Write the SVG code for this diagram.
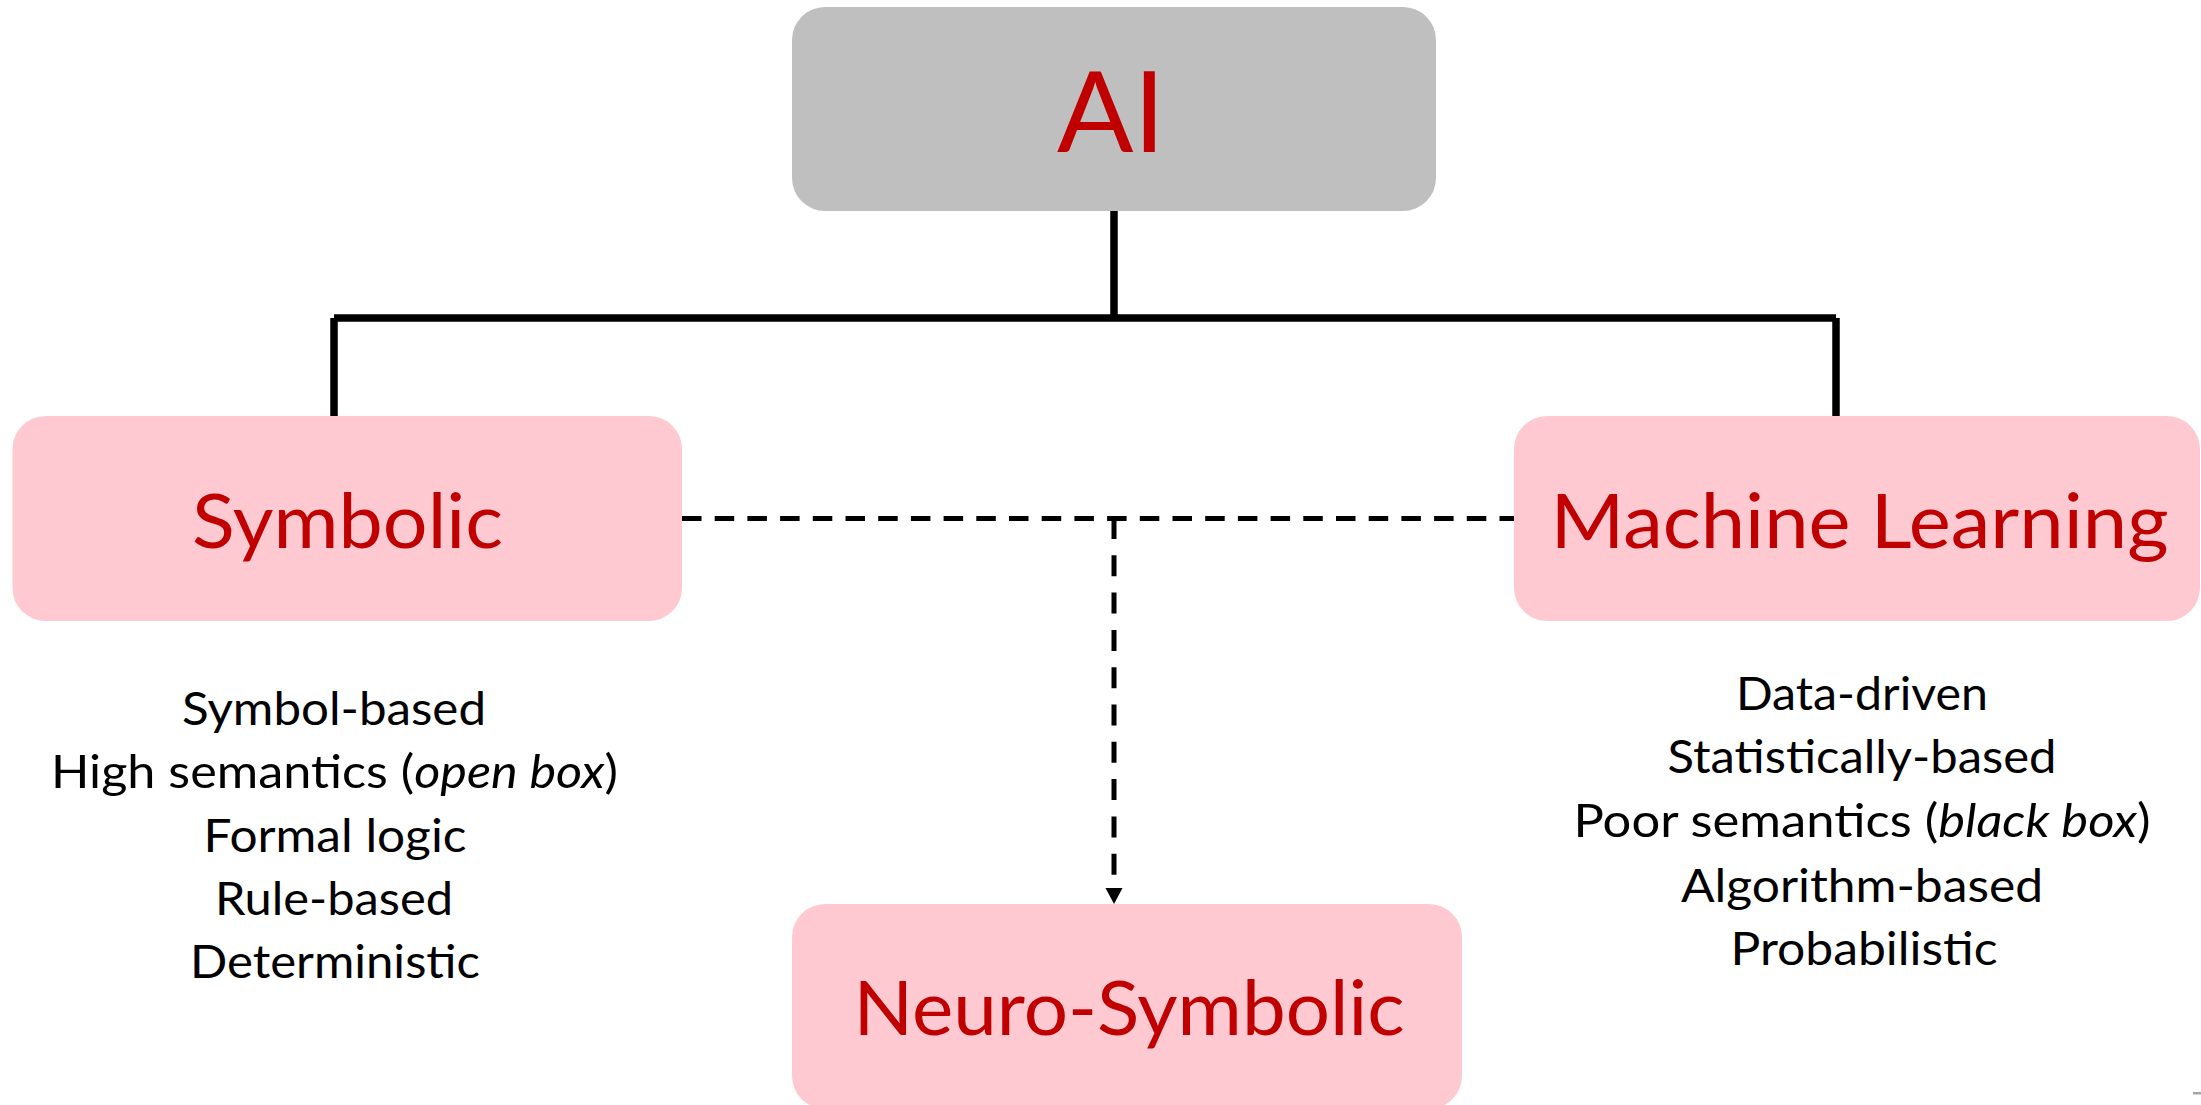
<svg xmlns="http://www.w3.org/2000/svg" width="2201" height="1105" viewBox="0 0 2201 1105">
  <style>
    .box-gray { fill: #BFBFBF; }
    .box-pink { fill: #FFC9D1; }
    .title { font-family: Lato, "Open Sans", "Liberation Sans", sans-serif; fill: #C00000; text-anchor: middle; }
    .item { font-family: Lato, "Open Sans", "Liberation Sans", sans-serif; font-size: 46px; fill: #000000; text-anchor: middle; }
    .solid { stroke: #000000; stroke-width: 7.5; fill: none; }
    .dash-h { stroke: #000000; stroke-width: 5; fill: none; stroke-dasharray: 19.5 13.2; }
    .dash-v { stroke: #000000; stroke-width: 5; fill: none; stroke-dasharray: 21 16.3; }
  </style>
  <defs>
    <marker id="arrow" markerUnits="userSpaceOnUse" markerWidth="18" markerHeight="18" refX="0" refY="8.5" orient="auto" viewBox="0 0 18 18">
      <path d="M0,0 L16,8.5 L0,17 Z" fill="#000000"/>
    </marker>
  </defs>
  <rect width="2201" height="1105" fill="#FFFFFF"/>

  <g id="connectors">
    <path class="solid" d="M1114,211 V318"/>
    <path class="solid" d="M334,318 H1836"/>
    <path class="solid" d="M334,318 V416"/>
    <path class="solid" d="M1836,318 V416"/>
    <path class="dash-h" d="M682,518.5 H1514"/>
    <path class="dash-v" d="M1114,518 V888" marker-end="url(#arrow)"/>
  </g>

  <g id="node-ai">
    <rect class="box-gray" x="792" y="7" width="644" height="204" rx="33" ry="33"/>
    <text class="title" x="1111" y="152" font-size="113">AI</text>
  </g>

  <g id="node-symbolic">
    <rect class="box-pink" x="12.5" y="416" width="669.5" height="205" rx="33" ry="33"/>
    <text class="title" x="347.5" y="548" font-size="75" textLength="311" lengthAdjust="spacingAndGlyphs">Symbolic</text>
  </g>

  <g id="node-ml">
    <rect class="box-pink" x="1514" y="416" width="686" height="205" rx="33" ry="33"/>
    <text class="title" x="1859.5" y="548" font-size="75" textLength="618" lengthAdjust="spacingAndGlyphs">Machine Learning</text>
  </g>

  <g id="node-neuro">
    <rect class="box-pink" x="792" y="904" width="670" height="205" rx="33" ry="33"/>
    <text class="title" x="1129" y="1035" font-size="75" textLength="551" lengthAdjust="spacingAndGlyphs">Neuro-Symbolic</text>
  </g>

  <g id="symbolic-traits">
    <text class="item" x="334" y="725" textLength="304" lengthAdjust="spacingAndGlyphs">Symbol-based</text>
    <text class="item" x="334.5" y="788" textLength="567" lengthAdjust="spacingAndGlyphs">High semantics (<tspan font-style="italic">open box</tspan>)</text>
    <text class="item" x="335" y="852" textLength="263" lengthAdjust="spacingAndGlyphs">Formal logic</text>
    <text class="item" x="334" y="915" textLength="238" lengthAdjust="spacingAndGlyphs">Rule-based</text>
    <text class="item" x="335" y="978" textLength="290" lengthAdjust="spacingAndGlyphs">Deterministic</text>
  </g>

  <g id="ml-traits">
    <text class="item" x="1862" y="710" textLength="252" lengthAdjust="spacingAndGlyphs">Data-driven</text>
    <text class="item" x="1862" y="773" textLength="389" lengthAdjust="spacingAndGlyphs">Statistically-based</text>
    <text class="item" x="1862" y="837" textLength="577" lengthAdjust="spacingAndGlyphs">Poor semantics (<tspan font-style="italic">black box</tspan>)</text>
    <text class="item" x="1862" y="902" textLength="362" lengthAdjust="spacingAndGlyphs">Algorithm-based</text>
    <text class="item" x="1864" y="965" textLength="267" lengthAdjust="spacingAndGlyphs">Probabilistic</text>
  </g>

  <rect x="2193" y="1092" width="8" height="2.5" fill="#A6A6A6"/>
</svg>
